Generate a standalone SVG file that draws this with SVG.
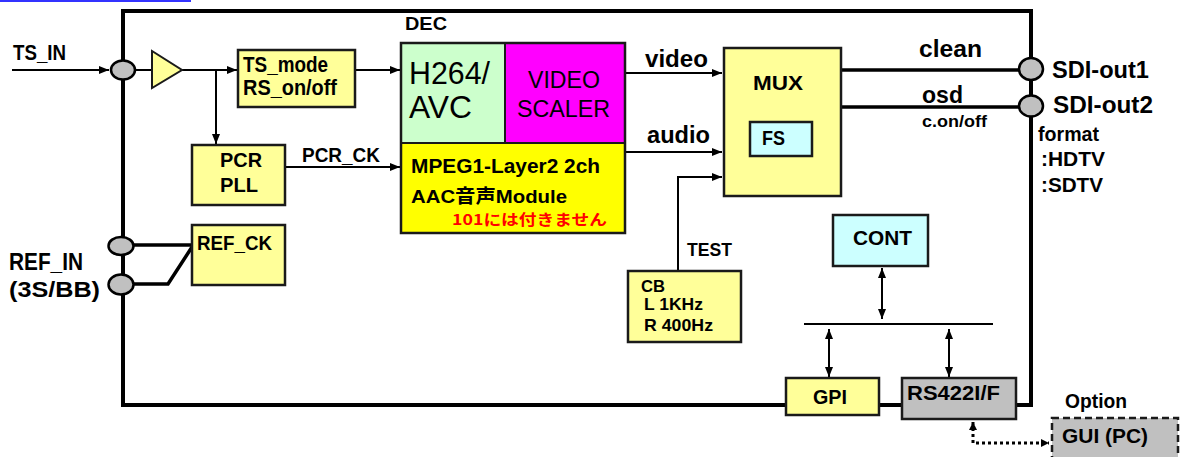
<svg xmlns="http://www.w3.org/2000/svg" width="1183" height="457" viewBox="0 0 1183 457">
<style>
text{font-family:"Liberation Sans","Noto Sans CJK JP",Arial,sans-serif;font-weight:bold;fill:#000}
.jp{font-family:"Noto Sans CJK JP","Liberation Sans",sans-serif}
.box{stroke:#1a1a1a;stroke-width:2.5}
.ly{fill:#ffff99}
.yy{fill:#ffff00}
.gr{fill:#ccffcc}
.mg{fill:#ff00ff}
.cy{fill:#ccffff}
.gy{fill:#c0c0c0}
.port{fill:#c0c0c0;stroke:#000;stroke-width:2.5}
.c{stroke:#000;stroke-width:2;fill:none}
.thick{stroke:#000;stroke-width:3.5;fill:none}
.dot{stroke:#000;stroke-width:3;fill:none;stroke-dasharray:3 3}
.n{font-weight:normal}
</style>
<defs>
<marker id="ah" viewBox="0 0 10 8" refX="10" refY="4" markerWidth="10" markerHeight="8" markerUnits="userSpaceOnUse" orient="auto-start-reverse"><path d="M0,0 L10,4 L0,8 z" fill="#000"/></marker>
<marker id="sh" viewBox="0 0 8 8" refX="8" refY="4" markerWidth="8" markerHeight="8" markerUnits="userSpaceOnUse" orient="auto-start-reverse"><path d="M0,0 L8,4 L0,8 z" fill="#000"/></marker>
</defs>
<rect x="0" y="0" width="191" height="2" fill="#3333ff"/>
<g id="frame"><path d="M123,405 V11 H1031 V405 Z" fill="none" stroke="#000" stroke-width="4"/></g>
<g id="connectors">
<line class="c" x1="12" y1="70" x2="109" y2="70" marker-end="url(#ah)"/>
<line class="c" x1="135" y1="70" x2="153" y2="70"/>
<line class="c" x1="182" y1="70" x2="237" y2="70" marker-end="url(#ah)"/>
<polyline class="c" points="216,70 216,144" marker-end="url(#ah)"/>
<line class="c" x1="355" y1="70" x2="400" y2="70" marker-end="url(#ah)"/>
<line class="c" x1="285" y1="167" x2="400" y2="167" marker-end="url(#ah)"/>
<polyline class="thick" points="134,245 192,245"/>
<polyline class="thick" points="134,284 168,284 192,247"/>
<line class="c" x1="626" y1="73" x2="722" y2="73" marker-end="url(#ah)"/>
<line class="c" x1="626" y1="152" x2="722" y2="152" marker-end="url(#ah)"/>
<polyline class="c" points="678,271 678,177 722,177" marker-end="url(#ah)"/>
<line class="thick" x1="842" y1="70" x2="1020" y2="70"/>
<line class="thick" x1="842" y1="107" x2="1020" y2="107"/>
<line class="c" x1="882" y1="268" x2="882" y2="319" marker-start="url(#ah)" marker-end="url(#ah)"/>
<line class="c" x1="804" y1="324" x2="993" y2="324"/>
<line class="c" x1="829" y1="329" x2="829" y2="377" marker-start="url(#ah)" marker-end="url(#ah)"/>
<line class="c" x1="949" y1="329" x2="949" y2="377" marker-start="url(#ah)" marker-end="url(#ah)"/>
<polyline class="dot" points="973,422 973,443 1049,443" marker-start="url(#sh)" marker-end="url(#sh)"/>
</g>
<g id="port-tsin"><ellipse class="port" cx="123" cy="70" rx="12" ry="9.5"/><text x="13" y="60" font-size="22" textLength="53" lengthAdjust="spacingAndGlyphs">TS_IN</text></g>
<g id="amp"><polygon points="152,51 152,88 182,70" fill="#ffff99" stroke="#1a1a1a" stroke-width="2"/></g>
<g id="tsmode"><rect class="box ly" x="238" y="50" width="117" height="57"/>
<text x="243" y="72" font-size="22" textLength="85" lengthAdjust="spacingAndGlyphs">TS_mode</text>
<text x="243" y="95" font-size="22" textLength="94" lengthAdjust="spacingAndGlyphs">RS_on/off</text></g>
<g id="pcr"><rect class="box ly" x="192" y="145" width="93" height="60"/>
<text x="220" y="167" font-size="21" textLength="42" lengthAdjust="spacingAndGlyphs">PCR</text>
<text x="220" y="192" font-size="21" textLength="38" lengthAdjust="spacingAndGlyphs">PLL</text></g>
<text x="302" y="162" font-size="20" textLength="78" lengthAdjust="spacingAndGlyphs">PCR_CK</text>
<g id="refck"><rect class="box ly" x="192" y="225" width="93" height="60"/>
<text x="197" y="250" font-size="21" textLength="75" lengthAdjust="spacingAndGlyphs">REF_CK</text></g>
<g id="port-ref"><ellipse class="port" cx="121" cy="246" rx="12.5" ry="9"/><ellipse class="port" cx="121" cy="284.5" rx="12.5" ry="10"/>
<text x="9" y="270" font-size="23" textLength="74" lengthAdjust="spacingAndGlyphs">REF_IN</text>
<text x="9" y="297" font-size="22" textLength="91" lengthAdjust="spacingAndGlyphs">(3S/BB)</text></g>
<g id="dec">
<text x="405" y="30" font-size="19" textLength="42" lengthAdjust="spacingAndGlyphs">DEC</text>
<rect class="gr" x="401" y="43" width="104" height="100"/>
<rect class="mg" x="505" y="43" width="120" height="100"/>
<rect class="yy" x="401" y="143" width="224" height="90"/>
<path d="M401,143 H625 M505,43 V143" stroke="#1a1a1a" stroke-width="2" fill="none"/>
<rect x="401" y="43" width="224" height="190" fill="none" stroke="#1a1a1a" stroke-width="2.5"/>
<text x="409" y="84" font-size="31" class="n" textLength="81" lengthAdjust="spacingAndGlyphs">H264/</text>
<text x="409" y="118" font-size="31" class="n" textLength="63" lengthAdjust="spacingAndGlyphs">AVC</text>
<text x="528" y="88" font-size="23" class="n" textLength="72" lengthAdjust="spacingAndGlyphs">VIDEO</text>
<text x="517" y="117" font-size="23" class="n" textLength="93" lengthAdjust="spacingAndGlyphs">SCALER</text>
<text x="411" y="173" font-size="20" textLength="189" lengthAdjust="spacingAndGlyphs">MPEG1-Layer2 2ch</text>
<text x="411" y="203" font-size="19" textLength="156" lengthAdjust="spacingAndGlyphs">AAC音声Module</text>
<text class="jp" x="452" y="225" font-size="15" style="fill:#ff0000" textLength="155" lengthAdjust="spacingAndGlyphs">101には付きません</text>
</g>
<text x="645" y="67" font-size="23" textLength="63" lengthAdjust="spacingAndGlyphs">video</text>
<text x="647" y="143" font-size="23" textLength="63" lengthAdjust="spacingAndGlyphs">audio</text>
<g id="mux"><rect class="box ly" x="724" y="48" width="117" height="148"/>
<text x="753" y="90" font-size="21" textLength="50" lengthAdjust="spacingAndGlyphs">MUX</text>
<rect class="box cy" x="750" y="122" width="62" height="34"/>
<text x="762" y="145" font-size="21" textLength="23" lengthAdjust="spacingAndGlyphs">FS</text></g>
<text x="919" y="57" font-size="24" textLength="63" lengthAdjust="spacingAndGlyphs">clean</text>
<text x="922" y="103" font-size="24" textLength="41" lengthAdjust="spacingAndGlyphs">osd</text>
<text x="922" y="127" font-size="17" textLength="65" lengthAdjust="spacingAndGlyphs">c.on/off</text>
<g id="port-sdi"><ellipse class="port" cx="1031" cy="69" rx="12" ry="11"/><ellipse class="port" cx="1031" cy="106" rx="12" ry="10.5"/>
<text x="1052" y="78" font-size="23" textLength="97" lengthAdjust="spacingAndGlyphs">SDI-out1</text>
<text x="1053" y="113" font-size="23" textLength="100" lengthAdjust="spacingAndGlyphs">SDI-out2</text>
<text x="1038" y="141" font-size="20" textLength="61" lengthAdjust="spacingAndGlyphs">format</text>
<text x="1041" y="166" font-size="20" textLength="64" lengthAdjust="spacingAndGlyphs">:HDTV</text>
<text x="1041" y="192" font-size="20" textLength="62" lengthAdjust="spacingAndGlyphs">:SDTV</text></g>
<text x="687" y="256" font-size="18" textLength="45" lengthAdjust="spacingAndGlyphs">TEST</text>
<g id="cb"><rect class="box ly" x="628" y="271" width="113" height="71"/>
<text x="641" y="292" font-size="17" textLength="24" lengthAdjust="spacingAndGlyphs">CB</text>
<text x="644" y="310" font-size="17" textLength="59" lengthAdjust="spacingAndGlyphs">L 1KHz</text>
<text x="644" y="331" font-size="17" textLength="69" lengthAdjust="spacingAndGlyphs">R 400Hz</text></g>
<g id="cont"><rect class="box cy" x="833" y="215" width="95" height="51"/>
<text x="853" y="245" font-size="21" textLength="59" lengthAdjust="spacingAndGlyphs">CONT</text></g>
<g id="gpi"><rect class="box ly" x="786" y="378" width="93" height="37"/>
<text x="813" y="404" font-size="20" textLength="34" lengthAdjust="spacingAndGlyphs">GPI</text></g>
<g id="rs422"><rect class="box gy" x="902" y="378" width="114" height="41"/>
<text x="907" y="400" font-size="21" textLength="93" lengthAdjust="spacingAndGlyphs">RS422I/F</text></g>
<g id="gui"><text x="1065" y="408" font-size="20" textLength="62" lengthAdjust="spacingAndGlyphs">Option</text>
<rect x="1052" y="418" width="126" height="45" fill="#c0c0c0" stroke="#1a1a1a" stroke-width="2.5" stroke-dasharray="7 4"/>
<text x="1062" y="443" font-size="21" textLength="86" lengthAdjust="spacingAndGlyphs">GUI (PC)</text></g>
</svg>
